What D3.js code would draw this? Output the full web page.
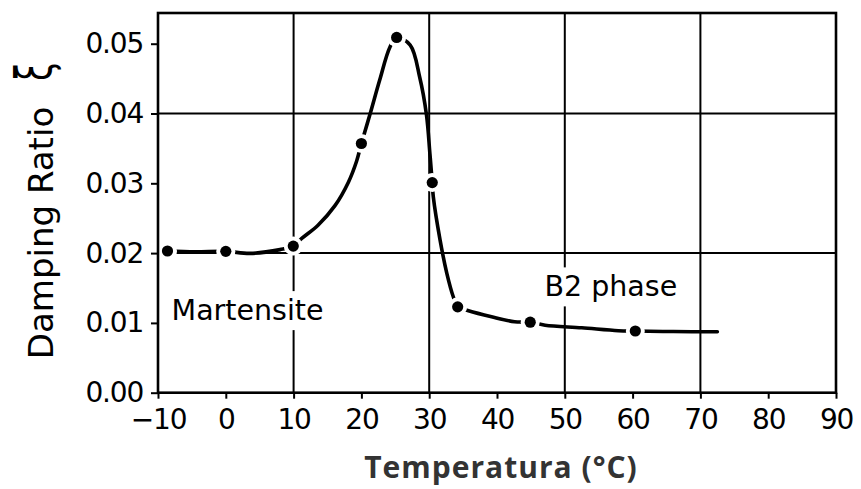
<!DOCTYPE html>
<html><head><meta charset="utf-8">
<script src="https://cdn.jsdelivr.net/npm/d3@7"></script>
<style>
html,body{margin:0;padding:0;background:#fff;}
svg{display:block;}
</style></head>
<body>
<svg id="c" width="861" height="489"></svg>
<script>
// Measured markers
const markerTemp = [-8.6, 0.0, 9.95, 20.0, 25.2, 30.45, 34.2, 44.9, 60.4];
const markerDamp = [0.0203, 0.02025, 0.0210, 0.0357, 0.0509, 0.0301, 0.0123, 0.0101, 0.00884];
// Traced fitted curve
const curveTemp = [-8.6, -4.5, 0.0, 3.6, 8.0, 9.95, 11.2, 13.6, 16.1, 18.1, 19.3, 20.0, 21.3, 22.7, 24.2, 25.2, 27.2, 28.6, 29.6, 30.1, 30.45, 30.6, 31.6, 32.6, 33.55, 34.2, 35.8, 39.2, 42.6, 44.9, 47.1, 52.5, 57.9, 60.4, 66.0, 72.5];
const curveDamp = [0.0203, 0.0202, 0.02025, 0.01996, 0.0205, 0.0210, 0.0221, 0.0240, 0.0268, 0.0302, 0.0332, 0.0357, 0.0400, 0.0448, 0.0495, 0.0509, 0.0498, 0.0452, 0.0398, 0.0343, 0.0301, 0.0281, 0.0219, 0.0171, 0.01375, 0.0123, 0.01174, 0.01088, 0.01017, 0.0101, 0.00967, 0.0093, 0.00888, 0.00884, 0.00876, 0.00873];
const xTicks = [-10, 0, 10, 20, 30, 40, 50, 60, 70, 80, 90];
const yTicks = [0.00, 0.01, 0.02, 0.03, 0.04, 0.05];
const xGrid = [10, 30, 50, 70];
const yGrid = [0.02, 0.04];
const labels = [{t: "Martensite", x: -8.0, y: 0.0104}, {t: "B2 phase", x: 47.0, y: 0.0138}];

const svg = d3.select("#c");
const x = d3.scaleLinear().domain([-10, 90]).range([158, 836]);
const y = d3.scaleLinear().domain([0, 0.0544]).range([392.7, 13]);
const fTick = "'DejaVu Sans', sans-serif";

// grid
svg.append("g").selectAll("line").data(xGrid).join("line")
  .attr("x1", d => x(d)).attr("x2", d => x(d)).attr("y1", y(0)).attr("y2", y(0.0544))
  .attr("stroke", "#000").attr("stroke-width", 2);
svg.append("g").selectAll("line").data(yGrid).join("line")
  .attr("x1", x(-10)).attr("x2", x(90)).attr("y1", d => y(d)).attr("y2", d => y(d))
  .attr("stroke", "#000").attr("stroke-width", 2);

// text labels with white background
const lab = svg.append("g").selectAll("g").data(labels).join("g");
lab.append("text")
  .attr("x", d => x(d.x)).attr("y", d => y(d.y))
  .attr("font-family", fTick).attr("font-size", 28.5).attr("fill", "#000")
  .text(d => d.t);
lab.each(function() {
  const g = d3.select(this);
  const bb = g.select("text").node().getBBox();
  g.insert("rect", "text").attr("x", bb.x - 3).attr("y", bb.y - 3)
    .attr("width", bb.width + 6).attr("height", bb.height + 6).attr("fill", "#fff");
});

// curve
const pts = curveTemp.map((t, i) => [t, curveDamp[i]]);
const line = d3.line().x(d => x(d[0])).y(d => y(d[1])).curve(d3.curveCatmullRom.alpha(0.5));
svg.append("path").attr("d", line(pts)).attr("fill", "none")
  .attr("stroke", "#000").attr("stroke-width", 3.6).attr("stroke-linecap", "round")
  .attr("stroke-linejoin", "round");

// marker halos and markers
const mk = markerTemp.map((t, i) => [t, markerDamp[i]]);
svg.append("g").selectAll("circle").data(mk).join("circle")
  .attr("cx", d => x(d[0])).attr("cy", d => y(d[1])).attr("r", 9.5).attr("fill", "#fff");
svg.append("g").selectAll("circle").data(mk).join("circle")
  .attr("cx", d => x(d[0])).attr("cy", d => y(d[1])).attr("r", 5.6).attr("fill", "#000");

// frame
svg.append("rect").attr("x", x(-10)).attr("y", y(0.0544))
  .attr("width", x(90) - x(-10)).attr("height", y(0) - y(0.0544))
  .attr("fill", "none").attr("stroke", "#000").attr("stroke-width", 2.6);

// axes
const ax = svg.append("g").attr("transform", `translate(0,${y(0)})`)
  .call(d3.axisBottom(x).tickValues(xTicks).tickSize(6).tickPadding(10).tickFormat(d3.format("d")));
const ay = svg.append("g").attr("transform", `translate(${x(-10)},0)`)
  .call(d3.axisLeft(y).tickValues(yTicks).tickSize(7).tickPadding(8).tickFormat(d3.format(".2f")));
[ax, ay].forEach(a => {
  a.select(".domain").remove();
  a.selectAll(".tick line").attr("stroke", "#000").attr("stroke-width", 2);
  a.selectAll(".tick text").attr("font-family", fTick).attr("font-size", 28)
    .attr("letter-spacing", "-1.2px").attr("fill", "#000");
});

// y title
svg.append("text").attr("transform", "translate(53,233) rotate(-90)")
  .attr("text-anchor", "middle").attr("font-family", fTick).attr("font-size", 34)
  .attr("fill", "#000").text("Damping Ratio");
svg.append("text").attr("transform", "translate(37.5,71.7) rotate(-90) scale(0.65,1)")
  .attr("text-anchor", "middle").attr("dy", 13).attr("font-family", fTick).attr("font-size", 50)
  .attr("fill", "#000").text("ξ");

// x title
svg.append("text").attr("x", 501).attr("y", 477.7).attr("text-anchor", "middle")
  .attr("font-family", "'Open Sans', sans-serif").attr("font-weight", "bold").attr("font-size", 30)
  .attr("letter-spacing", "1px")
  .attr("fill", "#333").text("Temperatura (°C)");
</script>
</body></html>
